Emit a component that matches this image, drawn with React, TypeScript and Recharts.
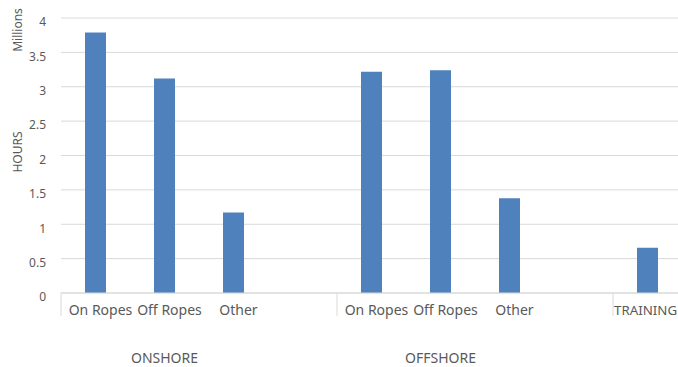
import { BarChart, Bar, XAxis, YAxis, CartesianGrid } from 'recharts';

const categories = ['On Ropes', 'Off Ropes', 'Other', '', 'On Ropes', 'Off Ropes', 'Other', '', 'TRAINING'];
const groups = ['', 'ONSHORE', '', '', '', 'OFFSHORE', '', '', ''];
const hours = [3.79, 3.12, 1.17, null, 3.22, 3.24, 1.38, null, 0.66];
const yTicks = [0, 0.5, 1, 1.5, 2, 2.5, 3, 3.5, 4];
const separators = [0, 4, 8];

const data = categories.map((label, i) => ({ id: i, label, group: groups[i], value: hours[i] }));

const CHART_W = 682;
const CHART_H = 367;
const PLOT_LEFT = 61;
const band = (CHART_W - PLOT_LEFT) / categories.length;
const textColor = '#595959';
const lineColor = '#d9d9d9';

const CategoryTick = ({ x, y, payload }: any) => {
  const i = payload.value;
  const last = i === categories.length - 1;
  return (
    <g>
      {separators.includes(i) && (
        <line x1={x - band / 2} x2={x - band / 2} y1={y} y2={y + 23} stroke={lineColor} />
      )}
      {last ? (
        // the last label sits flush against its separator, as in the original
        <text x={x - band / 2 + 1} y={y + 22} textAnchor="start" fill={textColor} fontSize={13.3}>
          {categories[i]}
        </text>
      ) : (
        <text x={x + 5} y={y + 22} textAnchor="middle" fill={textColor} fontSize={14}>
          {categories[i]}
        </text>
      )}
    </g>
  );
};

const GroupTick = ({ x, y, payload }: any) => (
  <text x={x} y={y + 29.5} textAnchor="middle" fill={textColor} fontSize={14}>
    {groups[payload.value]}
  </text>
);

const ValueTick = ({ x, y, payload }: any) => (
  <text x={x} y={y + 4} dy="0.355em" textAnchor="end" fill={textColor} fontSize={12}>
    {payload.value}
  </text>
);

export default function App() {
  return (
    <div
      style={{
        position: 'absolute',
        left: 0,
        top: 0,
        width: 678,
        height: CHART_H,
        overflow: 'hidden',
        fontFamily: '"Noto Sans", sans-serif',
      }}
    >
      <BarChart width={CHART_W} height={CHART_H} data={data} margin={{ top: 18, right: 0, bottom: 0, left: 0 }}>
        <CartesianGrid vertical={false} stroke={lineColor} />
        <XAxis
          dataKey="id"
          interval={0}
          height={40}
          tickSize={0}
          tickMargin={0}
          tickLine={false}
          axisLine={{ stroke: lineColor }}
          tick={<CategoryTick />}
        />
        <XAxis
          xAxisId="group"
          dataKey="id"
          interval={0}
          height={34}
          tickSize={0}
          tickMargin={0}
          tickLine={false}
          axisLine={false}
          tick={<GroupTick />}
        />
        <YAxis
          width={PLOT_LEFT}
          domain={[0, 4]}
          ticks={yTicks}
          interval={0}
          tickSize={0}
          tickMargin={15}
          tickLine={false}
          axisLine={false}
          tick={<ValueTick />}
        />
        <Bar dataKey="value" fill="#4f81bd" barSize={21} isAnimationActive={false} />
      </BarChart>
      <svg
        width={678}
        height={CHART_H}
        style={{ position: 'absolute', left: 0, top: 0, pointerEvents: 'none' }}
      >
        <text transform="translate(22,30) rotate(-90)" textAnchor="middle" fill={textColor} fontSize={12}>
          Millions
        </text>
        <text transform="translate(22,152) rotate(-90)" textAnchor="middle" fill={textColor} fontSize={12}>
          HOURS
        </text>
      </svg>
    </div>
  );
}
